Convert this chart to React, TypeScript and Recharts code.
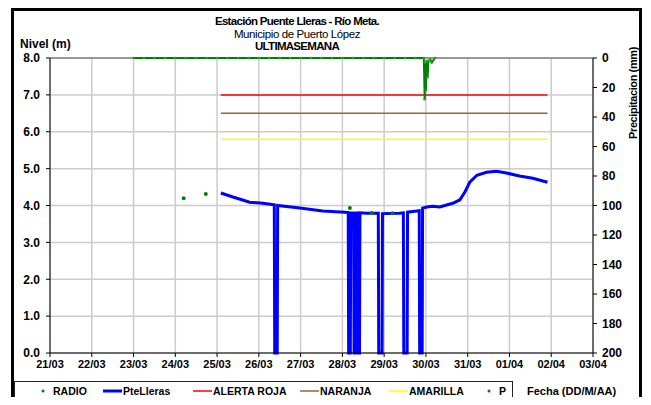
import React from "react";
import {
  ComposedChart,
  Line,
  Scatter,
  XAxis,
  YAxis,
  CartesianGrid,
  Legend,
  ReferenceLine,
} from "recharts";

// eje X: días desde el 21/03 a las 00:00
const dayTicks = [0, 1, 2, 3, 4, 5, 6, 7, 8, 9, 10, 11, 12, 13];
const dayLabels = [
  "21/03", "22/03", "23/03", "24/03", "25/03", "26/03", "27/03",
  "28/03", "29/03", "30/03", "31/03", "01/04", "02/04", "03/04",
];
const levelTicks = [0, 1, 2, 3, 4, 5, 6, 7, 8];
const precipTicks = [0, 20, 40, 60, 80, 100, 120, 140, 160, 180, 200];

// PteLleras (nivel, m)
const levelTime = [
  4.09, 4.38, 4.78, 5.1, 5.37, 5.38, 5.44, 5.45, 5.98, 6.53, 7.06, 7.14, 7.15,
  7.19, 7.2, 7.27, 7.28, 7.31, 7.32, 7.37, 7.38, 7.41, 7.42, 7.58, 7.82, 7.86,
  7.87, 7.95, 7.96, 8.37, 8.46, 8.47, 8.55, 8.56, 8.78, 8.84, 8.85, 8.91, 8.92,
  9.02, 9.16, 9.33, 9.64, 9.81, 9.93, 10.05, 10.22, 10.45, 10.69, 10.93, 11.24,
  11.56, 11.91,
];
const levelValue = [
  4.34, 4.23, 4.09, 4.06, 4.02, 0, 0, 4.0, 3.93, 3.85, 3.82, 3.81, 0,
  0, 3.8, 3.8, 0, 0, 3.8, 3.8, 0, 0, 3.8, 3.79, 3.79, 3.79,
  0, 0, 3.78, 3.79, 3.8, 0, 0, 3.82, 3.85, 3.86, 0, 0, 3.93,
  3.96, 3.98, 3.96, 4.06, 4.15, 4.36, 4.63, 4.82, 4.9, 4.93, 4.88, 4.8,
  4.74, 4.63,
];

// RADIO (nivel, m)
const radioTime = [3.2, 3.73, 7.18, 7.7, 8.2];
const radioValue = [4.2, 4.31, 3.93, 3.8, 3.79];

// umbrales de alerta
const alertTime = [4.09, 11.91];
const alertaRoja = [7.0, 7.0];
const naranja = [6.5, 6.5];
const amarilla = [5.8, 5.8];

// P (precipitación, mm)
const precipTime = [
  2.0, 2.25, 2.5, 2.75, 3.0, 3.25, 3.5, 3.75, 4.0, 4.25, 4.5, 4.75, 5.0, 5.25,
  5.5, 5.75, 6.0, 6.25, 6.5, 6.75, 7.0, 7.25, 7.5, 7.75, 8.0, 8.25, 8.5, 8.75,
  8.95, 8.97, 8.98, 9.0, 9.02, 9.04, 9.06, 9.1, 9.14, 9.22,
];
const precipValue = [
  0, 0, 0, 0, 0, 0, 0, 0, 0, 0, 0, 0, 0, 0,
  0, 0, 0, 0, 0, 0, 0, 0, 0, 0, 0, 0, 0, 0,
  0, 28, 3, 22, 2, 13, 2, 1, 3, 0,
];

const zip = (t: number[], v: number[]) => t.map((x, i) => ({ t: x, v: v[i] }));

const levelData = zip(levelTime, levelValue);
const radioData = zip(radioTime, radioValue);
const rojaData = zip(alertTime, alertaRoja);
const naranjaData = zip(alertTime, naranja);
const amarillaData = zip(alertTime, amarilla);
const precipData = zip(precipTime, precipValue);

const FONT = "Arial, 'Liberation Sans', sans-serif";

// x = posición del símbolo dentro del recuadro de la leyenda
const legendItems = [
  { name: "RADIO", color: "#008000", kind: "dot", x: 22 },
  { name: "PteLleras", color: "#0000ff", kind: "thick", x: 88 },
  { name: "ALERTA ROJA", color: "#ff0000", kind: "line", x: 178 },
  { name: "NARANJA", color: "#996633", kind: "line", x: 285 },
  { name: "AMARILLA", color: "#ffff00", kind: "line", x: 374 },
  { name: "P", color: "#008000", kind: "dot", x: 468 },
];

const renderLegend = () => (
  <div
    style={{
      position: "relative",
      boxSizing: "border-box",
      width: 499,
      height: 20,
      border: "1px solid #222",
      fontFamily: FONT,
      fontWeight: "bold",
      fontSize: 10.5,
      color: "#000",
    }}
  >
    {legendItems.map((it) => (
      <div
        key={it.name}
        style={{
          position: "absolute",
          left: it.x,
          top: 0,
          height: 18,
          display: "flex",
          alignItems: "center",
          whiteSpace: "nowrap",
        }}
      >
        {it.kind === "dot" ? (
          <svg width={12} height={6} style={{ marginRight: 4 }}>
            <circle cx={6} cy={3} r={1.5} fill={it.color} />
          </svg>
        ) : (
          <svg width={19} height={6} style={{ marginRight: 1 }}>
            <line x1={0} y1={3} x2={19} y2={3} stroke={it.color} strokeWidth={it.kind === "thick" ? 3 : 1.5} />
          </svg>
        )}
        <span>{it.name}</span>
      </div>
    ))}
  </div>
);

const boldTick = { fontFamily: FONT, fontWeight: "bold", fontSize: 12, fill: "#000" };

export default function App() {
  return (
    <div
      style={{
        position: "relative",
        margin: -8,
        width: 651,
        height: 405,
        overflow: "hidden",
        background: "#fff",
        fontFamily: FONT,
      }}
    >
      <div style={{ position: "absolute", left: 10, top: -8, fontSize: 12, fontWeight: "bold" }}>
        últimas horas.
      </div>
      <div
        style={{
          position: "absolute",
          left: 11,
          top: 8,
          width: 631,
          height: 420,
          boxSizing: "border-box",
          border: "3px solid #000",
        }}
      />
      <div style={{ position: "absolute", left: 0, top: 0 }}>
        <ComposedChart
          width={651}
          height={405}
          margin={{ top: 58, right: 18, left: 10, bottom: 32 }}
        >
          <CartesianGrid yAxisId="l" stroke="#cccccc" strokeWidth={1.5} />
          <XAxis
            dataKey="t"
            type="number"
            domain={[0, 13]}
            ticks={dayTicks}
            tickFormatter={(i: number) => dayLabels[i]}
            interval={0}
            height={20}
            tick={{ ...boldTick, fontSize: 11 }}
            tickSize={4}
            tickMargin={3}
            axisLine={{ stroke: "#000" }}
            tickLine={{ stroke: "#000" }}
          />
          <YAxis
            yAxisId="l"
            type="number"
            domain={[0, 8]}
            ticks={levelTicks}
            tickFormatter={(v: number) => v.toFixed(1)}
            width={40}
            tick={boldTick}
            tickSize={4}
            tickMargin={6}
            axisLine={{ stroke: "#000" }}
            tickLine={{ stroke: "#000" }}
          />
          <YAxis
            yAxisId="p"
            orientation="right"
            type="number"
            domain={[0, 200]}
            reversed
            ticks={precipTicks}
            width={40}
            tick={boldTick}
            tickSize={4}
            tickMargin={5}
            axisLine={{ stroke: "#000" }}
            tickLine={{ stroke: "#000" }}
          />
          <ReferenceLine yAxisId="l" y={8} stroke="#808080" strokeWidth={1.5} />
          <Line
            yAxisId="l"
            data={rojaData}
            dataKey="v"
            name="ALERTA ROJA"
            stroke="#ff0000"
            strokeWidth={1.5}
            dot={false}
            isAnimationActive={false}
          />
          <Line
            yAxisId="l"
            data={naranjaData}
            dataKey="v"
            name="NARANJA"
            stroke="#996633"
            strokeWidth={1.5}
            dot={false}
            isAnimationActive={false}
          />
          <Line
            yAxisId="l"
            data={amarillaData}
            dataKey="v"
            name="AMARILLA"
            stroke="#ffff00"
            strokeWidth={1.5}
            dot={false}
            isAnimationActive={false}
          />
          <Line
            yAxisId="l"
            data={levelData}
            dataKey="v"
            name="PteLleras"
            stroke="#0000ff"
            strokeWidth={3}
            dot={false}
            isAnimationActive={false}
          />
          <Scatter
            yAxisId="l"
            data={radioData}
            dataKey="v"
            name="RADIO"
            fill="#008000"
            shape={(p: any) => <circle cx={p.cx} cy={p.cy} r={2} fill="#008000" />}
            isAnimationActive={false}
          />
          <Line
            yAxisId="p"
            data={precipData}
            dataKey="v"
            name="P"
            stroke="#008000"
            strokeWidth={2}
            dot={{ r: 1.3, fill: "#2a9a2a", stroke: "none" }}
            isAnimationActive={false}
          />
          <Legend
            layout="horizontal"
            verticalAlign="middle"
            align="center"
            content={renderLegend}
            wrapperStyle={{ position: "absolute", left: 14, top: 381, width: 499, height: 20 }}
          />
        </ComposedChart>
      </div>
      <div
        style={{
          position: "absolute",
          left: 0,
          width: 594,
          top: 15,
          textAlign: "center",
          lineHeight: "12.5px",
          fontSize: 11.5,
        }}
      >
        <div style={{ fontWeight: "bold", letterSpacing: -0.7 }}>Estación Puente Lleras - Río Meta.</div>
        <div style={{ letterSpacing: -0.4 }}>Municipio de Puerto López</div>
        <div style={{ fontWeight: "bold", letterSpacing: -0.7 }}>ULTIMASEMANA</div>
      </div>
      <div style={{ position: "absolute", left: 20, top: 37, fontSize: 12, fontWeight: "bold" }}>
        Nivel (m)
      </div>
      <div
        style={{
          position: "absolute",
          left: 633,
          top: 93,
          transform: "translate(-50%, -50%) rotate(-90deg)",
          whiteSpace: "nowrap",
          fontSize: 11,
          fontWeight: "bold",
          letterSpacing: -0.4,
        }}
      >
        Precipitacion (mm)
      </div>
      <div
        style={{
          position: "absolute",
          left: 527,
          top: 385,
          fontSize: 11,
          fontWeight: "bold",
          whiteSpace: "nowrap",
        }}
      >
        Fecha (DD/M/AA)
      </div>
    </div>
  );
}
